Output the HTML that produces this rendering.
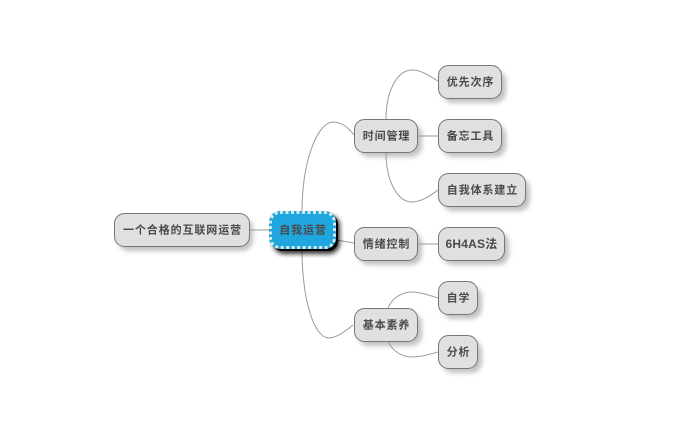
<!DOCTYPE html>
<html><head><meta charset="utf-8">
<style>
html,body{margin:0;padding:0;background:#fff;width:683px;height:422px;overflow:hidden}
svg{display:block}
text{font-family:"Liberation Sans","Noto Sans CJK SC",sans-serif;font-size:11px;font-weight:bold;fill:#4a4a4a;text-anchor:middle;letter-spacing:.9px}
.n{fill:#e0e0e0;stroke:#777;stroke-width:1}
.s{fill:#999;opacity:.6;filter:url(#b)}
.c{fill:none;stroke:#999;stroke-width:1}
.l{fill:none;stroke:#bbb;stroke-width:1.5}
</style></head><body>
<svg width="683" height="422" viewBox="0 0 683 422" xmlns="http://www.w3.org/2000/svg">
<defs><filter id="b" x="-30%" y="-50%" width="160%" height="200%"><feGaussianBlur stdDeviation="2.500"/></filter></defs>

<path class="l" d="M250 230H269"/>
<path class="c" d="M302 212C302 160 318 122 333 122C341 122 348 127 354 135"/>
<path class="c" d="M336 240L354 243"/>
<path class="c" d="M302 248C302 300 314 338 329 338C337 338 347 330 353 325"/>
<path class="c" d="M386 119C386 90 398 70 412 70C422 70 431 77 438 81"/>
<path class="l" d="M418 136H438"/>
<path class="c" d="M386 152C386 182 398 202 412 202C422 202 431 195 438 190"/>
<path class="l" d="M418 244H438"/>
<path class="c" d="M388 308C392 298 402 292 412 292C422 292 431 296 438 298"/>
<path class="c" d="M388 341C392 351 402 357 412 357C422 357 431 354 438 352"/>

<rect class="s" x="118" y="218" width="135" height="33" rx="11"/>
<rect class="s" x="358" y="124" width="64" height="33" rx="11"/>
<rect class="s" x="442" y="70" width="64" height="33" rx="11"/>
<rect class="s" x="442" y="124" width="64" height="33" rx="11"/>
<rect class="s" x="442" y="178" width="88" height="33" rx="11"/>
<rect class="s" x="358" y="232" width="64" height="33" rx="11"/>
<rect class="s" x="442" y="232" width="67" height="33" rx="11"/>
<rect class="s" x="358" y="313" width="64" height="33" rx="11"/>
<rect class="s" x="442" y="286" width="40" height="33" rx="11"/>
<rect class="s" x="442" y="340" width="40" height="33" rx="11"/>

<rect class="n" x="114.5" y="213.5" width="135" height="33" rx="10"/>
<rect class="n" x="354.5" y="119.5" width="63" height="33" rx="10"/>
<rect class="n" x="438.5" y="65.5" width="63" height="33" rx="10"/>
<rect class="n" x="438.5" y="119.5" width="63" height="33" rx="10"/>
<rect class="n" x="438.5" y="173.5" width="87" height="33" rx="10"/>
<rect class="n" x="354.5" y="227.5" width="63" height="33" rx="10"/>
<rect class="n" x="438.5" y="227.5" width="66" height="33" rx="10"/>
<rect class="n" x="354.5" y="308.5" width="63" height="33" rx="10"/>
<rect class="n" x="438.5" y="281.5" width="39" height="33" rx="10"/>
<rect class="n" x="438.5" y="335.5" width="39" height="33" rx="10"/>

<rect x="273" y="215" width="67" height="39" rx="11" fill="#000" filter="url(#b)" style="opacity:.8"/>
<rect x="272" y="214" width="66" height="37" rx="10" fill="#000"/>
<rect x="269" y="211" width="67" height="38" rx="11" fill="#1fa6df"/>
<rect x="270.500" y="212.500" width="64" height="35" rx="9.500" fill="none" stroke="#d5e8f0" stroke-width="3" stroke-dasharray="3 2.500"/>

<text x="182.500" y="233.500">一个合格的互联网运营</text>
<text x="303" y="233.500">自我运营</text>
<text x="386.500" y="139.500">时间管理</text>
<text x="470.500" y="85.500">优先次序</text>
<text x="470.500" y="139.500">备忘工具</text>
<text x="482.500" y="193.500">自我体系建立</text>
<text x="386.500" y="247.500">情绪控制</text>
<text x="471.500" y="248" style="font-size:12px;letter-spacing:.2px">6H4AS法</text>
<text x="386.500" y="328.500">基本素养</text>
<text x="458.500" y="301.500">自学</text>
<text x="458.500" y="355.500">分析</text>
</svg>
</body></html>
